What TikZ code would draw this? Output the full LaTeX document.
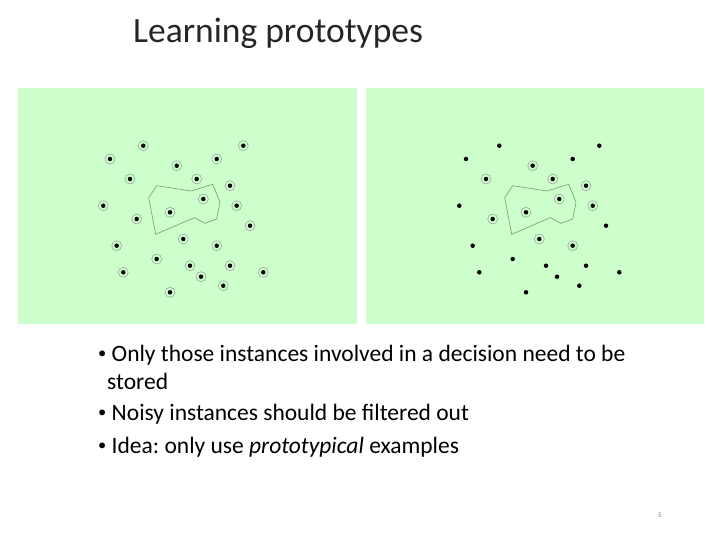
\documentclass[tikz,border=0pt]{standalone}
\usepackage{fontspec}
\setmainfont{Carlito}
\begin{document}
\frenchspacing
\begin{tikzpicture}[x=1pt,y=-1pt,
  panel/.style={fill={rgb,255:red,204;green,255;blue,204},draw=none},
  dotp/.style={circle,fill=black,inner sep=0pt,minimum size=4.5pt},
  ring/.style={circle,draw=gray!80,line width=0.5pt,inner sep=0pt,minimum size=10pt},
  poly/.style={draw={rgb,255:red,110;green,160;blue,110},line width=0.6pt},
  txt/.style={anchor=west,inner sep=0pt,font=\fontsize{23.5}{28}\selectfont}]
\useasboundingbox (0,0) rectangle (720,540);
\fill[white] (0,0) rectangle (720,540);
\node[anchor=west,inner sep=0pt,font=\fontsize{35.5}{42}\selectfont,text=black!85] (title) at (133,33) {Learning prototypes};
\path[panel] (18,88) rectangle (357,324);
\path[panel] (366,88) rectangle (704,324);
\foreach \x/\y/\c [count=\i] in {143.3/145.7/0,243.3/145.7/0,110/159/0,216.7/159/0,176.7/165.7/1,130/179/1,196.7/179/1,230/185.7/1,203.3/199/1,103.3/205.7/0,236.7/205.7/1,170/212.3/1,136.7/219/1,250/225.7/0,183.3/239/1,116.7/245.7/0,216.7/245.7/1,156.7/259/0,190/265.7/0,230/265.7/0,123.3/272.3/0,263.3/272.3/0,201/276.7/0,223.3/285.7/0,170/292.3/0}{
  \node[ring] (l\i) at (\x,\y) {};
  \node[dotp] (ld\i) at (l\i) {};
  \ifnum\c=1 \node[ring] (r\i) at (\x+356,\y) {};\else\coordinate (r\i) at (\x+356,\y);\fi
  \node[dotp] (rd\i) at (\x+356,\y) {};
}
\foreach \dx in {0,356}{
\draw[poly,shift={(\dx,0)}] (156.7,185.7) -- (191,191) -- (212.7,184.3) -- (220,202.3) -- (216.7,219) -- (205,223.3) -- (194.3,217.7) -- (155.7,234.3) -- (148.7,197.7) -- cycle;}
\newcommand{\bul}{\raisebox{0.12em}{\scalebox{0.7}{\textbullet}}\ }
\node[txt] (b1) at (98,355) {\bul Only those instances involved in a decision need to be};
\node[txt] (b1b) at (107,381) {stored};
\node[txt] (b2) at (98,414) {\bul Noisy instances should be filtered out};
\node[txt] (b3) at (98,447) {\bul Idea: only use \textit{prototypical} examples};
\node[font=\fontsize{7}{8}\selectfont,text=gray] (pg) at (660,515) {5};
\end{tikzpicture}
\end{document}
